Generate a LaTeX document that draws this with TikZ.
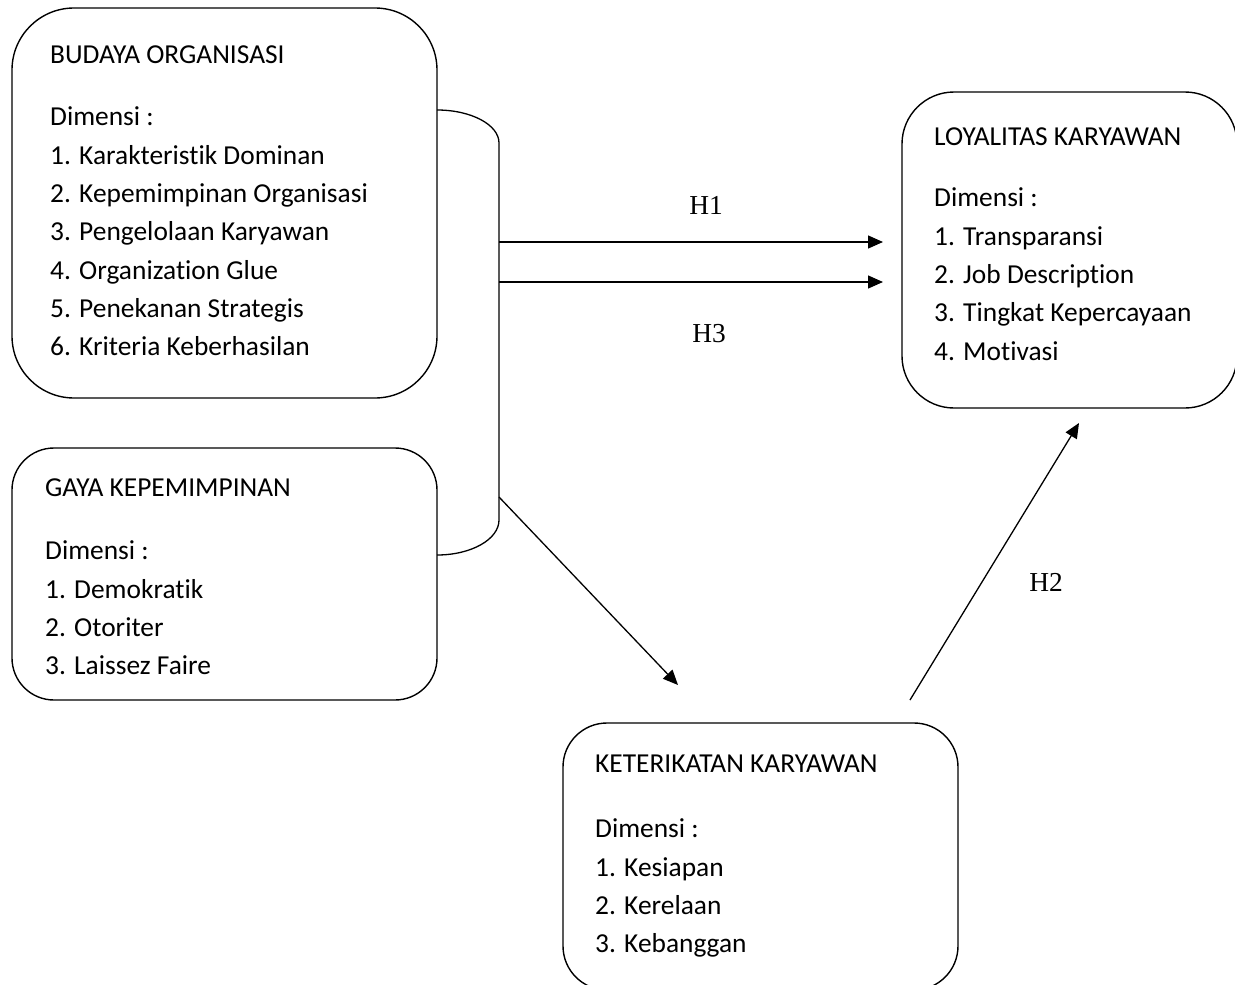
\documentclass[tikz,border=0pt]{standalone}
\usepackage{fontspec}
\setmainfont[Ligatures=NoCommon]{Carlito}
\newfontfamily\timesfont{Liberation Serif}
\usetikzlibrary{arrows.meta}
\begin{document}
\begin{tikzpicture}[x=1bp,y=1bp,
  box/.style={draw, line width=1.4bp, inner sep=0pt},
  txt/.style={anchor=north west, inner sep=0pt, align=left, font=\fontsize{27.5}{38.5}\selectfont},
  hlab/.style={inner sep=0pt, font=\timesfont\fontsize{27.5}{30}\selectfont},
  conn/.style={line width=1.3bp},
  arr/.style={line width=1.3bp, -{Triangle[length=15bp,width=13bp]}}]
\useasboundingbox[fill=white] (0,0) rectangle (1235,-985);
\clip (0,0) rectangle (1235,-985);
% boxes
\node[box, minimum width=425bp, minimum height=390bp, rounded corners=62bp] (bo) at (224.5,-203) {};
\node[box, minimum width=425bp, minimum height=252bp, rounded corners=42bp] (gk) at (224.5,-574) {};
\node[box, minimum width=335bp, minimum height=316bp, rounded corners=52bp] (lk) at (1069.5,-250) {};
\node[box, minimum width=395bp, minimum height=267bp, rounded corners=44bp] (kk) at (760.5,-856.5) {};
% texts
\node[txt] (bo-t) at (50,-46) {BUDAYA ORGANISASI\\[23.5bp]Dimensi :\\1. Karakteristik Dominan\\2. Kepemimpinan Organisasi\\3. Pengelolaan Karyawan\\4. Organization Glue\\5. Penekanan Strategis\\6. Kriteria Keberhasilan};
\node[txt] (gk-t) at (45,-479) {GAYA KEPEMIMPINAN\\[24.5bp]Dimensi :\\1. Demokratik\\2. Otoriter\\3. Laissez Faire};
\node[txt] (lk-t) at (934,-128) {LOYALITAS KARYAWAN\\[22.5bp]Dimensi :\\1. Transparansi\\2. Job Description\\3. Tingkat Kepercayaan\\4. Motivasi};
\node[txt] (kk-t) at (595,-755) {KETERIKATAN KARYAWAN\\[26.5bp]Dimensi :\\1. Kesiapan\\2. Kerelaan\\3. Kebanggan};
% bracket
\coordinate (bt) at (437,-110);
\coordinate (bb) at (437,-555);
\draw[conn] (bt) arc[start angle=90, end angle=0, x radius=62, y radius=33]
  -- (499,-520) arc[start angle=0, end angle=-90, x radius=62, y radius=35];
\coordinate (s1) at (499,-242);
\coordinate (s3) at (499,-282);
\coordinate (s4) at (499,-497);
\coordinate (e1) at (883,-242);
\coordinate (e3) at (883,-282);
\coordinate (e4) at (678,-685);
\coordinate (s2) at (910,-700);
\coordinate (e2) at (1079,-423);
\draw[arr] (s1) -- (e1);
\draw[arr] (s3) -- (e3);
\draw[arr] (s4) -- (e4);
\draw[arr] (s2) -- (e2);
% labels
\node[hlab] (h1) at (706,-205) {H1};
\node[hlab] (h3) at (709,-334) {H3};
\node[hlab] (h2) at (1046,-582) {H2};
\end{tikzpicture}
\end{document}
